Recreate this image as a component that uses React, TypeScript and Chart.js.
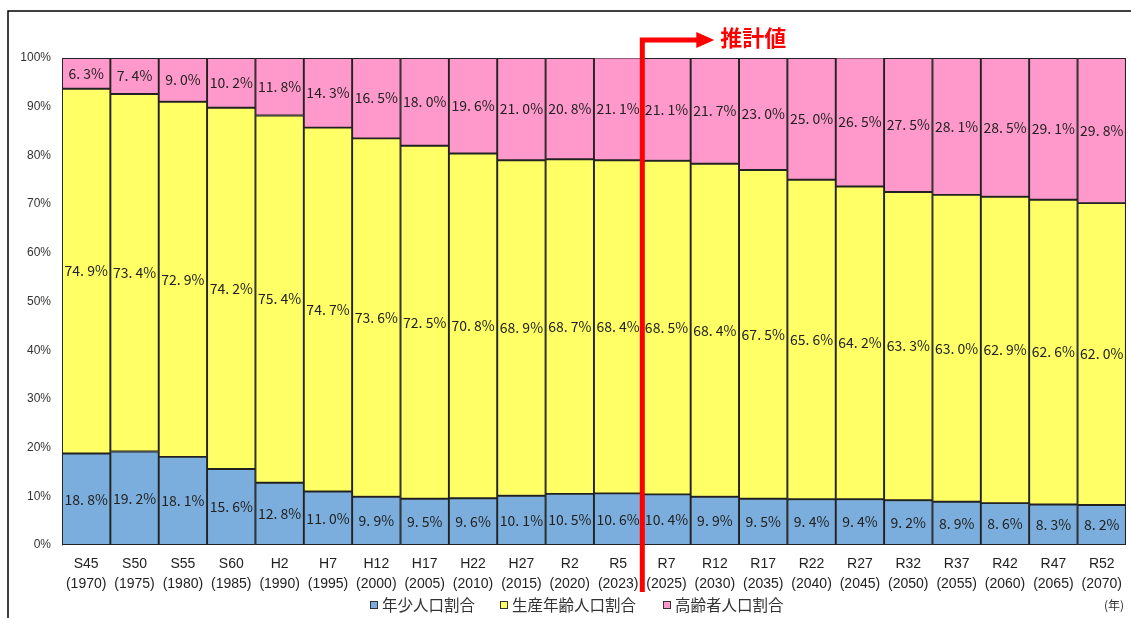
import React, { useEffect, useRef } from "react";
import { Chart, registerables } from "chart.js";

Chart.register(...registerables);

const eraLabels = ["S45","S50","S55","S60","H2","H7","H12","H17","H22","H27","R2","R5","R7","R12","R17","R22","R27","R32","R37","R42","R47","R52"];
const yearLabels = ["1970","1975","1980","1985","1990","1995","2000","2005","2010","2015","2020","2023","2025","2030","2035","2040","2045","2050","2055","2060","2065","2070"];
const youngShare = [18.8,19.2,18.1,15.6,12.8,11.0,9.9,9.5,9.6,10.1,10.5,10.6,10.4,9.9,9.5,9.4,9.4,9.2,8.9,8.6,8.3,8.2];
const workingShare = [74.9,73.4,72.9,74.2,75.4,74.7,73.6,72.5,70.8,68.9,68.7,68.4,68.5,68.4,67.5,65.6,64.2,63.3,63.0,62.9,62.6,62.0];
const elderlyShare = [6.3,7.4,9.0,10.2,11.8,14.3,16.5,18.0,19.6,21.0,20.8,21.1,21.1,21.7,23.0,25.0,26.5,27.5,28.1,28.5,29.1,29.8];
const seriesNames = ["年少人口割合", "生産年齢人口割合", "高齢者人口割合"];
const seriesColors = ["#7BAEDC", "#FFFF66", "#FF99CC"];
const yTicks = [0,10,20,30,40,50,60,70,80,90,100];
const estimateStartIndex = 12;
const estimateLabel = "推計値";
const yearUnit = "(年)";

const JP = '"Noto Sans CJK JP", "Noto Sans", sans-serif';

const fmt = (v: number) => {
  const s = v.toFixed(1).split(".");
  return `${s[0]}. ${s[1]}%`;
};

const overlayPlugin = {
  id: "overlay",
  beforeDraw(chart: any) {
    const ctx = chart.ctx;
    ctx.save();
    ctx.strokeStyle = "#000";
    ctx.lineWidth = 1.5;
    ctx.beginPath();
    ctx.moveTo(8, 618);
    ctx.lineTo(8, 11);
    ctx.lineTo(1131, 11);
    ctx.stroke();
    ctx.restore();
  },
  afterDatasetsDraw(chart: any) {
    const ctx = chart.ctx;
    ctx.save();
    ctx.font = `14px ${JP}`;
    ctx.fillStyle = "#222";
    ctx.textAlign = "center";
    ctx.textBaseline = "middle";
    chart.data.datasets.forEach((ds: any, di: number) => {
      const meta = chart.getDatasetMeta(di);
      meta.data.forEach((el: any, i: number) => {
        const y = (el.y + el.base) / 2;
        ctx.fillText(fmt(ds.data[i]), el.x, y);
      });
    });
    ctx.restore();
  },
  afterDraw(chart: any) {
    const ctx = chart.ctx;
    const xs = chart.scales.x;
    const lx = (xs.getPixelForValue(estimateStartIndex - 1) + xs.getPixelForValue(estimateStartIndex)) / 2;
    ctx.save();
    // red arrow
    const ay = 40;
    ctx.strokeStyle = "#FF0000";
    ctx.fillStyle = "#FF0000";
    ctx.lineWidth = 5;
    ctx.beginPath();
    ctx.moveTo(lx, 592);
    ctx.lineTo(lx, ay);
    ctx.lineTo(lx + 56, ay);
    ctx.stroke();
    ctx.beginPath();
    ctx.moveTo(lx + 54, ay - 8);
    ctx.lineTo(lx + 72, ay);
    ctx.lineTo(lx + 54, ay + 8);
    ctx.closePath();
    ctx.fill();
    ctx.font = `bold 22px ${JP}`;
    ctx.textAlign = "left";
    ctx.textBaseline = "middle";
    ctx.fillText(estimateLabel, lx + 78, 38);

    // legend
    ctx.font = `15.5px ${JP}`;
    ctx.textBaseline = "middle";
    const legendX = [370, 500, 663];
    const ly = 605;
    seriesNames.forEach((name, i) => {
      ctx.fillStyle = seriesColors[i];
      ctx.fillRect(legendX[i], ly - 4, 7, 7);
      ctx.strokeStyle = "#333";
      ctx.lineWidth = 1;
      ctx.strokeRect(legendX[i] + 0.5, ly - 3.5, 7, 7);
      ctx.fillStyle = "#333";
      ctx.fillText(name, legendX[i] + 12, ly);
    });
    ctx.font = `12px ${JP}`;
    ctx.fillStyle = "#333";
    ctx.textAlign = "right";
    ctx.fillText(yearUnit, 1124, 605);
    ctx.restore();
  },
};

export default function App() {
  const ref = useRef<HTMLCanvasElement>(null);
  useEffect(() => {
    if (!ref.current) return;
    const chart = new Chart(ref.current, {
      type: "bar",
      data: {
        labels: eraLabels.map((e, i) => [e, `(${yearLabels[i]})`]),
        datasets: [youngShare, workingShare, elderlyShare].map((d, i) => ({
          label: seriesNames[i],
          data: d,
          backgroundColor: seriesColors[i],
          borderColor: "#222",
          borderWidth: 1.3,
          borderSkipped: false,
          barPercentage: 1,
          categoryPercentage: 1,
        })),
      },
      options: {
        animation: false,
        responsive: false,
        maintainAspectRatio: false,
        layout: { padding: { left: 0, right: 2, top: 58, bottom: 0 } },
        plugins: { legend: { display: false }, tooltip: { enabled: false } },
        scales: {
          x: {
            stacked: true,
            grid: { display: false, drawTicks: false },
            border: { display: false },
            ticks: {
              padding: 9,
              color: "#222",
              font: { family: "Liberation Sans, Arial, sans-serif", size: 14, lineHeight: 1.45 },
              maxRotation: 0,
              autoSkip: false,
            },
            afterFit: (s: any) => { s.height = 618 - 545; },
          },
          y: {
            stacked: true,
            min: 0,
            max: 100,
            afterBuildTicks: (s: any) => { s.ticks = yTicks.map((v) => ({ value: v })); },
            grid: { display: false, drawTicks: false },
            border: { display: true, color: "#999", width: 1 },
            ticks: {
              padding: 11,
              color: "#333",
              font: { family: "Liberation Sans, Arial, sans-serif", size: 12 },
              callback: (v: any) => `${v}%`,
            },
            afterFit: (s: any) => { s.width = 62; },
          },
        },
      },
      plugins: [overlayPlugin],
    });
    return () => chart.destroy();
  }, []);
  return (
    <div style={{ position: "fixed", left: 0, top: 0, width: 1131, height: 618, background: "#fff" }}>
      <canvas ref={ref} width={1131} height={618} style={{ display: "block", width: 1131, height: 618 }} />
    </div>
  );
}
